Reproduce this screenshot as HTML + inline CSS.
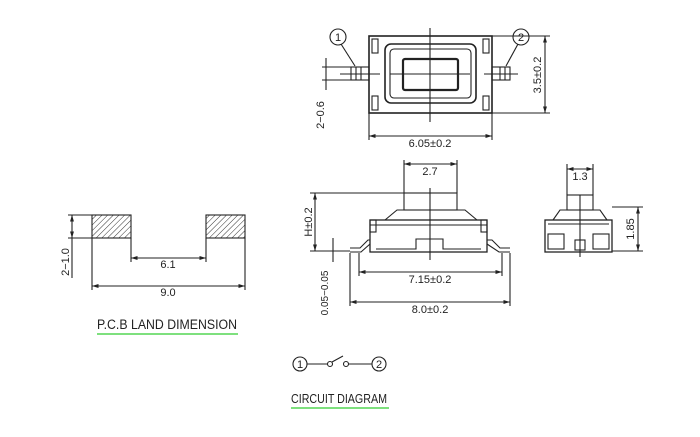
<!DOCTYPE html>
<html><head><style>body{margin:0;background:#fff}svg{display:block}text{font-family:"Liberation Sans",sans-serif;fill:#222}</style></head><body>
<svg width="700" height="437" viewBox="0 0 700 437" xmlns="http://www.w3.org/2000/svg">
<defs><pattern id="h" width="4" height="4" patternUnits="userSpaceOnUse" patternTransform="rotate(45)"><line x1="0" y1="0" x2="0" y2="4" stroke="#333" stroke-width="1"/></pattern>
<marker id="a" viewBox="0 0 10 10" refX="10" refY="5" markerWidth="6" markerHeight="6" orient="auto-start-reverse"><path d="M0,2 L10,5 L0,8z" fill="#222"/></marker></defs>
<g stroke="#222" fill="none" stroke-width="1.1">
<!-- top view -->
<rect x="369" y="36" width="123" height="77" stroke-width="1.6"/>
<rect x="372" y="39" width="6" height="14"/><rect x="372" y="96" width="6" height="14"/>
<rect x="483" y="39" width="6" height="14"/><rect x="483" y="96" width="6" height="14"/>
<rect x="385" y="44" width="91" height="59" rx="6" stroke-width="1.6"/>
<rect x="390" y="49" width="81" height="49" rx="4"/>
<rect x="403" y="59" width="55" height="31" rx="2" stroke-width="2.2"/>
<line x1="430" y1="28" x2="430" y2="122"/><line x1="390" y1="74" x2="470" y2="74"/>
<rect x="351" y="67" width="18" height="13"/><line x1="356" y1="67" x2="356" y2="80"/><line x1="361" y1="67" x2="361" y2="80"/>
<rect x="492" y="67" width="18" height="13"/><line x1="500" y1="67" x2="500" y2="80"/><line x1="505" y1="67" x2="505" y2="80"/>
<line x1="340" y1="74" x2="380" y2="74"/><line x1="484" y1="74" x2="518" y2="74"/>
<circle cx="338" cy="37" r="8"/><line x1="341" y1="44" x2="355" y2="66"/>
<circle cx="521" cy="37" r="8"/><line x1="518" y1="44" x2="506" y2="66"/>
<line x1="322" y1="67" x2="351" y2="67"/><line x1="322" y1="80" x2="351" y2="80"/><line x1="326" y1="58" x2="326" y2="90"/>
<line x1="369" y1="113" x2="369" y2="140"/><line x1="492" y1="113" x2="492" y2="140"/>
<line x1="369" y1="136" x2="492" y2="136" marker-start="url(#a)" marker-end="url(#a)"/>
<line x1="492" y1="36" x2="550" y2="36"/><line x1="492" y1="113" x2="550" y2="113"/>
<line x1="545" y1="36" x2="545" y2="113" marker-start="url(#a)" marker-end="url(#a)"/>
<!-- side view -->
<line x1="404" y1="160" x2="404" y2="193"/><line x1="457" y1="160" x2="457" y2="193"/>
<line x1="404" y1="164" x2="457" y2="164" marker-start="url(#a)" marker-end="url(#a)"/>
<rect x="404" y="193" width="53" height="17"/>
<path d="M385,220 L397,210 L465,210 L477,220"/>
<rect x="370" y="220" width="117" height="32" stroke-width="1.3"/>
<line x1="370" y1="225" x2="487" y2="225"/>
<rect x="370" y="220" width="6" height="12"/><rect x="481" y="220" width="6" height="12"/>
<path d="M376,249 L416,249 L416,239 L443,239 L443,249 L481,249"/>
<line x1="430" y1="188" x2="430" y2="260"/>
<path d="M350,248 L360,248 L368,240 L370,240"/><path d="M350,252 L361,252 L370,244"/>
<path d="M510,248 L500,248 L492,240 L487,240"/><path d="M510,252 L499,252 L487,244"/>
<line x1="310" y1="193" x2="404" y2="193"/><line x1="310" y1="251" x2="350" y2="251"/>
<line x1="315" y1="193" x2="315" y2="251" marker-start="url(#a)" marker-end="url(#a)"/>
<line x1="333" y1="238" x2="333" y2="262"/>
<line x1="359" y1="253" x2="359" y2="276"/><line x1="502" y1="253" x2="502" y2="276"/>
<line x1="359" y1="272" x2="502" y2="272" marker-start="url(#a)" marker-end="url(#a)"/>
<line x1="350" y1="253" x2="350" y2="306"/><line x1="510" y1="253" x2="510" y2="306"/>
<line x1="350" y1="302" x2="510" y2="302" marker-start="url(#a)" marker-end="url(#a)"/>
<!-- end view -->
<line x1="567" y1="164" x2="567" y2="195"/><line x1="593" y1="164" x2="593" y2="195"/>
<line x1="567" y1="169" x2="593" y2="169" marker-start="url(#a)" marker-end="url(#a)"/>
<rect x="567" y="195" width="26" height="15"/>
<path d="M553,220 L560,210 L600,210 L607,220"/>
<rect x="545" y="220" width="67" height="32" stroke-width="1.3"/>
<line x1="548" y1="224" x2="609" y2="224"/>
<rect x="548" y="234" width="16" height="15"/><rect x="593" y="234" width="16" height="15"/>
<rect x="575" y="240" width="10" height="10"/><line x1="580" y1="195" x2="580" y2="257"/>
<line x1="612" y1="207" x2="643" y2="207"/><line x1="612" y1="251" x2="643" y2="251"/>
<line x1="638" y1="207" x2="638" y2="251" marker-start="url(#a)" marker-end="url(#a)"/>
<!-- PCB -->
<rect x="92" y="215" width="39" height="23" fill="url(#h)"/>
<rect x="206" y="215" width="39" height="23" fill="url(#h)"/>
<line x1="68" y1="215" x2="92" y2="215"/><line x1="68" y1="238" x2="92" y2="238"/>
<line x1="72" y1="215" x2="72" y2="238" marker-start="url(#a)" marker-end="url(#a)"/>
<line x1="72" y1="238" x2="72" y2="278"/>
<line x1="131" y1="238" x2="131" y2="262"/><line x1="206" y1="238" x2="206" y2="262"/>
<line x1="131" y1="258" x2="206" y2="258" marker-start="url(#a)" marker-end="url(#a)"/>
<line x1="92" y1="238" x2="92" y2="290"/><line x1="245" y1="238" x2="245" y2="290"/>
<line x1="92" y1="286" x2="245" y2="286" marker-start="url(#a)" marker-end="url(#a)"/>
<!-- circuit -->
<circle cx="300" cy="364" r="7"/><line x1="307" y1="364" x2="327" y2="364"/>
<circle cx="330" cy="364" r="2.5"/><line x1="332" y1="362" x2="343" y2="356"/>
<circle cx="346" cy="364" r="2.5"/><line x1="349" y1="364" x2="372" y2="364"/>
<circle cx="379" cy="364" r="7"/>
</g>
<g font-size="11">
<text x="338" y="41" text-anchor="middle">1</text><text x="521" y="41" text-anchor="middle">2</text>
<text x="430" y="147" text-anchor="middle">6.05±0.2</text>
<text transform="translate(541,75) rotate(-90)" text-anchor="middle">3.5±0.2</text>
<text transform="translate(324,115) rotate(-90)" text-anchor="middle">2−0.6</text>
<text x="430" y="175" text-anchor="middle">2.7</text>
<text transform="translate(312,222) rotate(-90)" text-anchor="middle">H±0.2</text>
<text transform="translate(328,293) rotate(-90)" text-anchor="middle" font-size="10">0.05−0.05</text>
<text x="430" y="283" text-anchor="middle">7.15±0.2</text>
<text x="430" y="313" text-anchor="middle">8.0±0.2</text>
<text x="580" y="180" text-anchor="middle">1.3</text>
<text transform="translate(634,229) rotate(-90)" text-anchor="middle">1.85</text>
<text transform="translate(69,262) rotate(-90)" text-anchor="middle">2−1.0</text>
<text x="168" y="268" text-anchor="middle" font-family="Liberation Serif">6.1</text>
<text x="168" y="296" text-anchor="middle" font-family="Liberation Serif">9.0</text>
<text x="300" y="368" text-anchor="middle">1</text><text x="379" y="368" text-anchor="middle">2</text>
<text x="97" y="329" font-size="13.5" textLength="140" lengthAdjust="spacingAndGlyphs">P.C.B LAND DIMENSION</text>
<text x="291" y="403" font-size="13" textLength="96" lengthAdjust="spacingAndGlyphs">CIRCUIT DIAGRAM</text>
</g>
<rect x="97" y="333" width="141" height="2" fill="#7ee07e"/>
<rect x="291" y="407" width="98" height="2" fill="#7ee07e"/>
</svg>
</body></html>
